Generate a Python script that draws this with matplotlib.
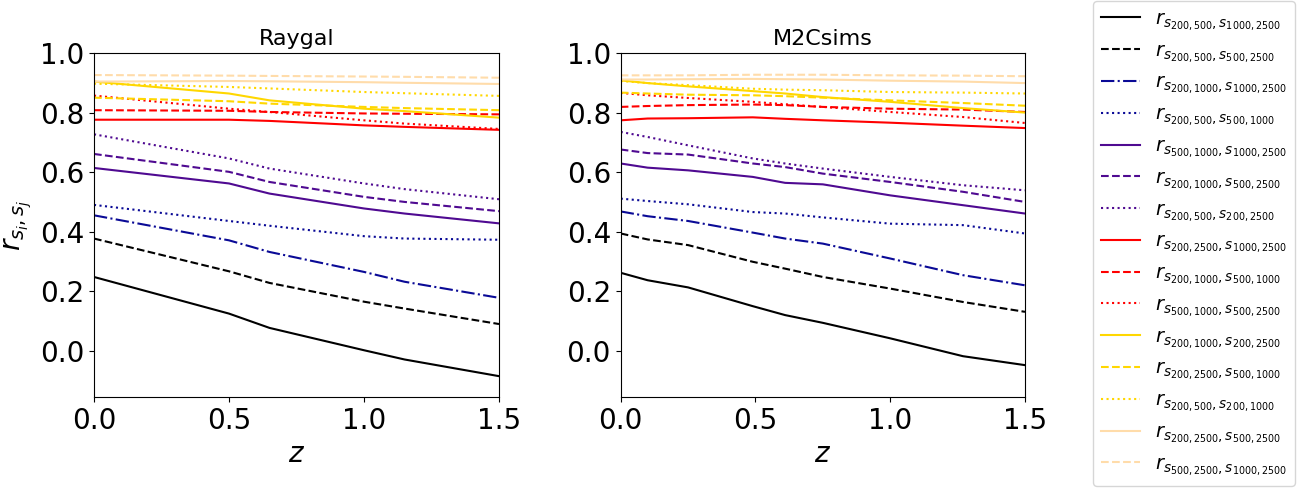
import matplotlib
matplotlib.use("Agg")
import matplotlib.pyplot as plt

# Redshift grids
z_raygal = [0.0, 0.5, 0.65, 1.0, 1.15, 1.5]
z_m2c = [0.0, 0.1, 0.25, 0.49, 0.61, 0.75, 1.0, 1.27, 1.5]

labels = [
    r"$r_{s_{200,500},s_{1000,2500}}$",
    r"$r_{s_{200,500},s_{500,2500}}$",
    r"$r_{s_{200,1000},s_{1000,2500}}$",
    r"$r_{s_{200,500},s_{500,1000}}$",
    r"$r_{s_{500,1000},s_{1000,2500}}$",
    r"$r_{s_{200,1000},s_{500,2500}}$",
    r"$r_{s_{200,500},s_{200,2500}}$",
    r"$r_{s_{200,2500},s_{1000,2500}}$",
    r"$r_{s_{200,1000},s_{500,1000}}$",
    r"$r_{s_{500,1000},s_{500,2500}}$",
    r"$r_{s_{200,1000},s_{200,2500}}$",
    r"$r_{s_{200,2500},s_{500,1000}}$",
    r"$r_{s_{200,500},s_{200,1000}}$",
    r"$r_{s_{200,2500},s_{500,2500}}$",
    r"$r_{s_{500,2500},s_{1000,2500}}$",
]

# Raygal values (one list per legend entry)
raygal_1 = [0.248, 0.125, 0.077, 0.002, -0.029, -0.085]
raygal_2 = [0.377, 0.267, 0.228, 0.165, 0.142, 0.090]
raygal_3 = [0.455, 0.371, 0.332, 0.265, 0.232, 0.178]
raygal_4 = [0.490, 0.436, 0.420, 0.385, 0.377, 0.373]
raygal_5 = [0.614, 0.562, 0.528, 0.478, 0.461, 0.428]
raygal_6 = [0.661, 0.601, 0.567, 0.517, 0.500, 0.469]
raygal_7 = [0.727, 0.646, 0.612, 0.562, 0.543, 0.509]
raygal_8 = [0.776, 0.776, 0.772, 0.757, 0.752, 0.742]
raygal_9 = [0.808, 0.806, 0.802, 0.797, 0.796, 0.794]
raygal_10 = [0.857, 0.813, 0.802, 0.774, 0.763, 0.745]
raygal_11 = [0.904, 0.864, 0.841, 0.813, 0.805, 0.783]
raygal_12 = [0.850, 0.838, 0.830, 0.819, 0.815, 0.808]
raygal_13 = [0.897, 0.886, 0.881, 0.869, 0.865, 0.856]
raygal_14 = [0.904, 0.906, 0.905, 0.902, 0.900, 0.896]
raygal_15 = [0.926, 0.924, 0.923, 0.921, 0.920, 0.917]

# M2Csims values
m2c_1 = [0.262, 0.237, 0.213, 0.150, 0.120, 0.094, 0.042, -0.018, -0.048]
m2c_2 = [0.394, 0.374, 0.355, 0.299, 0.276, 0.248, 0.209, 0.164, 0.131]
m2c_3 = [0.468, 0.452, 0.436, 0.397, 0.377, 0.360, 0.310, 0.254, 0.220]
m2c_4 = [0.511, 0.503, 0.492, 0.466, 0.461, 0.448, 0.427, 0.422, 0.394]
m2c_5 = [0.629, 0.615, 0.606, 0.584, 0.564, 0.559, 0.522, 0.489, 0.461]
m2c_6 = [0.676, 0.664, 0.659, 0.629, 0.617, 0.595, 0.567, 0.534, 0.500]
m2c_7 = [0.735, 0.718, 0.690, 0.646, 0.629, 0.612, 0.584, 0.556, 0.539]
m2c_8 = [0.774, 0.780, 0.781, 0.784, 0.779, 0.774, 0.766, 0.756, 0.748]
m2c_9 = [0.819, 0.822, 0.825, 0.827, 0.825, 0.819, 0.813, 0.810, 0.802]
m2c_10 = [0.866, 0.858, 0.849, 0.836, 0.828, 0.819, 0.802, 0.785, 0.765]
m2c_11 = [0.908, 0.899, 0.888, 0.872, 0.864, 0.852, 0.836, 0.815, 0.800]
m2c_12 = [0.867, 0.864, 0.860, 0.858, 0.855, 0.850, 0.841, 0.832, 0.823]
m2c_13 = [0.906, 0.899, 0.892, 0.880, 0.877, 0.875, 0.869, 0.867, 0.864]
m2c_14 = [0.911, 0.911, 0.912, 0.913, 0.912, 0.911, 0.907, 0.904, 0.899]
m2c_15 = [0.925, 0.925, 0.925, 0.927, 0.927, 0.927, 0.925, 0.924, 0.922]

raygal = [raygal_1, raygal_2, raygal_3, raygal_4, raygal_5, raygal_6, raygal_7,
          raygal_8, raygal_9, raygal_10, raygal_11, raygal_12, raygal_13,
          raygal_14, raygal_15]
m2c = [m2c_1, m2c_2, m2c_3, m2c_4, m2c_5, m2c_6, m2c_7, m2c_8, m2c_9,
       m2c_10, m2c_11, m2c_12, m2c_13, m2c_14, m2c_15]

colors = ["black", "black", "#0a0a96", "#0a0a96", "#4f0a91", "#4f0a91", "#4f0a91",
          "red", "red", "red", "gold", "gold", "gold", "#ffdcaa", "#ffdcaa"]
styles = ["-", "--", "-.", ":", "-", "--", ":", "-", "--", ":", "-", "--", ":",
          "-", "--"]

fig = plt.figure(figsize=(13.16, 4.88), dpi=100)
ax1 = fig.add_axes([94 / 1316, 1 - 397 / 488, 405 / 1316, 344 / 488])
ax2 = fig.add_axes([620.7 / 1316, 1 - 397 / 488, 404.3 / 1316, 344 / 488])

handles = []
for i in range(15):
    h, = ax1.plot(z_raygal, raygal[i], color=colors[i], linestyle=styles[i],
                  lw=1.5, label=labels[i])
    handles.append(h)
    ax2.plot(z_m2c, m2c[i], color=colors[i], linestyle=styles[i], lw=1.5)

for ax, title in [(ax1, "Raygal"), (ax2, "M2Csims")]:
    ax.set_xlim(0, 1.5)
    ax.set_ylim(-0.155, 1.0)
    ax.set_xticks([0.0, 0.5, 1.0, 1.5])
    ax.set_yticks([0.0, 0.2, 0.4, 0.6, 0.8, 1.0])
    ax.tick_params(labelsize=20)
    ax.set_title(title, fontsize=16)
    ax.set_xlabel(r"$z$", fontsize=20)
ax1.set_ylabel(r"$r_{s_i,s_j}$", fontsize=20)

fig.legend(handles=handles, loc="upper left", bbox_to_anchor=(1093 / 1316, 0.997),
           fontsize=14, labelspacing=0.42, handlelength=2.0, borderaxespad=0.0)

fig.savefig("out.png", dpi=100)
